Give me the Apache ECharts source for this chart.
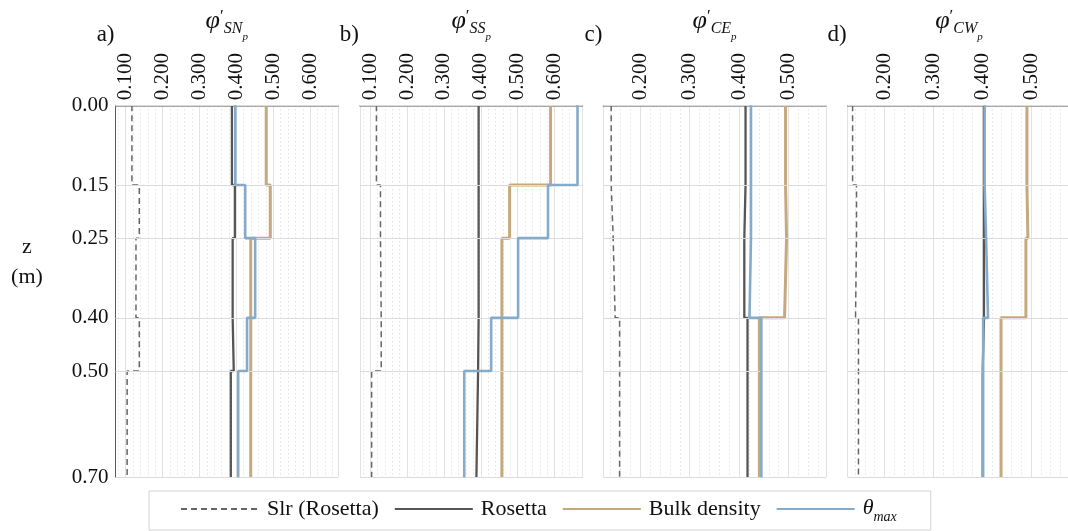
<!DOCTYPE html>
<html>
<head>
<meta charset="utf-8">
<script src="https://cdn.jsdelivr.net/npm/echarts@6/dist/echarts.min.js"></script>
<style>
  html, body { margin: 0; padding: 0; background: #ffffff; }
  #chart { width: 1068px; height: 531px; }
</style>
</head>
<body>
<div id="chart"></div>
<script>
// Layer boundaries of the soil profile (depth z, m)
const depths = [0, 0.15, 0.25, 0.40, 0.50, 0.70];
// Depths that carry a tick label and a horizontal grid line
const depthTicks = [0, 0.15, 0.25, 0.40, 0.50, 0.70];

const seriesNames = ['Slr (Rosetta)', 'Rosetta', 'Bulk density', 'θmax'];
const panelLetters = ['a)', 'b)', 'c)', 'd)'];
const panelSites = ['SN', 'SS', 'CE', 'CW'];

// Effective porosity per layer (top to bottom), one array per estimate and site
const slrSN      = [0.117, 0.137, 0.128, 0.137, 0.104];
const rosettaSN  = [0.388, 0.396, 0.390, 0.393, 0.385];
const bulkSN     = [0.481, 0.492, 0.439, 0.439, 0.439];
const thetaSN    = [0.397, 0.424, 0.451, 0.429, 0.405];

const slrSS      = [0.117, 0.128, 0.130, 0.130, 0.104];
const rosettaSS  = [0.394, 0.394, 0.394, 0.3925, 0.388];
const bulkSS     = [0.589, 0.478, 0.457, 0.457, 0.457];
const thetaSS    = [0.662, 0.582, 0.501, 0.428, 0.355];

const slrCE      = [0.141, 0.145, 0.149, 0.158, 0.158];
const rosettaCE  = [0.413, 0.4105, 0.4105, 0.417, 0.417];
const bulkCE     = [0.494, 0.496, 0.492, 0.441, 0.441];
const thetaCE    = [0.424, 0.424, 0.421, 0.445, 0.445];

const slrCW      = [0.135, 0.143, 0.141, 0.147, 0.147];
const rosettaCW  = [0.4037, 0.4037, 0.4037, 0.401, 0.401];
const bulkCW     = [0.4915, 0.4935, 0.4894, 0.4385, 0.4385];
const thetaCW    = [0.405, 0.408, 0.412, 0.402, 0.402];

// x-axis extents of the four panels
const xMin = [0.0725, 0.0725, 0.125, 0.125];
const xMax = [0.6755, 0.6755, 0.5755, 0.5755];

const panels = [
  [slrSN, rosettaSN, bulkSN, thetaSN],
  [slrSS, rosettaSS, bulkSS, thetaSS],
  [slrCE, rosettaCE, bulkCE, thetaCE],
  [slrCW, rosettaCW, bulkCW, thetaCW]
];

const FONT = "'Liberation Serif', 'DejaVu Serif', serif";
const TEXT = '#111111';

const lineStyles = [
  { color: '#666666', width: 1.5, type: [6, 4] },
  { color: '#555555', width: 2.3 },
  { color: '#c6a87f', width: 3 },
  { color: '#86abc9', width: 2.6 }
];

// Panel geometry (pixels)
const gridLeft = [115.5, 360, 603.3, 847.7];
const gridWidth = 222.5;
const gridTop = 105.3;
const gridHeight = 372;

// Turn per-layer values into a vertical step profile: (value, top) -> (value, bottom)
function stepProfile(values) {
  const pts = [];
  values.forEach((v, i) => {
    pts.push([v, depths[i]]);
    pts.push([v, depths[i + 1]]);
  });
  return pts;
}

function isTenth(v) {
  return Math.abs(v * 10 - Math.round(v * 10)) < 1e-6;
}

const grids = [], xAxes = [], yAxes = [], series = [], graphics = [];

panels.forEach((profiles, p) => {
  grids.push({ left: gridLeft[p], top: gridTop, width: gridWidth, height: gridHeight, containLabel: false });

  xAxes.push({
    gridIndex: p,
    type: 'value',
    position: 'top',
    min: xMin[p],
    max: xMax[p],
    splitNumber: 5,
    axisLine: { show: true, onZero: false, lineStyle: { color: '#8c8c8c', width: 1.5 } },
    axisTick: { show: false },
    minorTick: { show: false, splitNumber: 5 },
    axisLabel: {
      rotate: -90,
      margin: 5,
      color: TEXT,
      fontFamily: FONT,
      fontSize: 21,
      formatter: v => (isTenth(v) ? v.toFixed(3) : '')
    },
    splitLine: { show: true, lineStyle: { color: '#e2e2e2', width: 1 } },
    minorSplitLine: { show: true, lineStyle: { color: '#d6d6d6', width: 1, type: [1, 3] } }
  });

  yAxes.push({
    gridIndex: p,
    type: 'value',
    inverse: true,
    min: 0,
    max: 0.7,
    interval: 0.05,
    axisLine: { show: p === 0, onZero: false, lineStyle: { color: '#5a5a5a', width: 1 } },
    axisTick: { show: false },
    axisLabel: {
      show: p === 0,
      margin: 7,
      color: TEXT,
      fontFamily: FONT,
      fontSize: 21,
      formatter: v => (depthTicks.some(d => Math.abs(d - v) < 1e-6) ? v.toFixed(2) : '')
    },
    splitLine: { show: false }
  });

  // horizontal grid lines at the layer boundaries
  series.push({
    type: 'line',
    name: 'grid-' + p,
    xAxisIndex: p,
    yAxisIndex: p,
    data: [],
    z: 1,
    silent: true,
    markLine: {
      silent: true,
      symbol: 'none',
      animation: false,
      label: { show: false },
      lineStyle: { color: '#dcdcdc', width: 1, type: 'solid' },
      data: depthTicks.map(d => ({ yAxis: d }))
    }
  });

  profiles.forEach((vals, k) => {
    series.push({
      type: 'line',
      name: seriesNames[k],
      xAxisIndex: p,
      yAxisIndex: p,
      data: stepProfile(vals),
      showSymbol: false,
      symbol: 'none',
      z: 2 + k,
      lineStyle: lineStyles[k],
      itemStyle: { color: lineStyles[k].color },
      emphasis: { disabled: true }
    });
  });

  const cx = gridLeft[p] + gridWidth / 2;
  // panel title: φ'_{XY_p}
  graphics.push({
    type: 'text',
    silent: true,
    style: {
      text: '{phi|φ}{pr|′}{sub|' + panelSites[p] + '}{ss|p}',
      x: cx,
      y: 8,
      align: 'center',
      verticalAlign: 'top',
      fill: TEXT,
      rich: {
        phi: { fontFamily: FONT, fontSize: 26, fontStyle: 'italic', lineHeight: 30, verticalAlign: 'top', fill: TEXT },
        pr: { fontFamily: FONT, fontSize: 17, lineHeight: 17, verticalAlign: 'top', fill: TEXT },
        sub: { fontFamily: FONT, fontSize: 16, fontStyle: 'italic', lineHeight: 16, verticalAlign: 'bottom', fill: TEXT, padding: [0, 0, 1, 0] },
        ss: { fontFamily: FONT, fontSize: 11, fontStyle: 'italic', lineHeight: 11, verticalAlign: 'bottom', fill: TEXT, padding: [0, 0, -5, 0] }
      }
    }
  });
  // panel letter
  graphics.push({
    type: 'text',
    silent: true,
    style: {
      text: panelLetters[p],
      x: gridLeft[p] - 1,
      y: 46,
      align: 'right',
      verticalAlign: 'bottom',
      fill: TEXT,
      font: '23px ' + FONT
    }
  });
});

// depth axis title
graphics.push({
  type: 'text',
  silent: true,
  style: {
    text: 'z\n(m)',
    x: 27,
    y: 232,
    align: 'center',
    verticalAlign: 'top',
    fill: TEXT,
    font: '22px ' + FONT,
    lineHeight: 30
  }
});

const chart = echarts.init(document.getElementById('chart'), null, { renderer: 'canvas' });
chart.setOption({
  animation: false,
  backgroundColor: '#ffffff',
  grid: grids,
  xAxis: xAxes,
  yAxis: yAxes,
  series: series,
  graphic: graphics,
  legend: {
    data: seriesNames,
    left: 149,
    top: 491,
    orient: 'horizontal',
    itemWidth: 78,
    itemHeight: 14,
    itemGap: 15,
    padding: [6, 34, 6, 31],
    borderColor: '#d2d2d2',
    borderWidth: 1,
    backgroundColor: '#ffffff',
    selectedMode: false,
    // line-only legend keys
    itemStyle: { opacity: 0 },
    textStyle: {
      fontFamily: FONT,
      fontSize: 22,
      color: TEXT,
      padding: [0, 0, 0, 3],
      rich: {
        th: { fontFamily: FONT, fontSize: 22, fontStyle: 'italic', lineHeight: 24, verticalAlign: 'top', color: TEXT },
        mx: { fontFamily: FONT, fontSize: 14, fontStyle: 'italic', lineHeight: 14, verticalAlign: 'bottom', color: TEXT, padding: [0, 0, -3, 0] }
      }
    },
    formatter: name => (name === 'θmax' ? '{th|θ}{mx|max}' : name)
  }
});
</script>
</body>
</html>
